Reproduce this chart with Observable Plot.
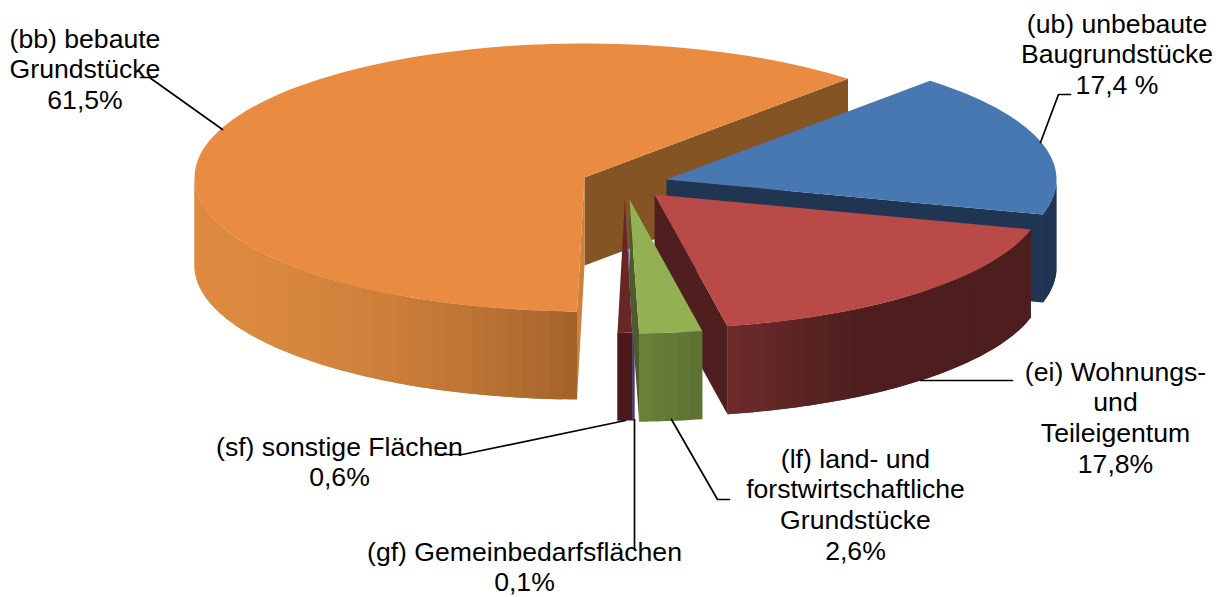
<!DOCTYPE html>
<html><head><meta charset="utf-8">
<style>html,body{margin:0;padding:0;background:#fff}</style>
<script src="https://cdn.jsdelivr.net/npm/d3@7"></script>
<script src="https://cdn.jsdelivr.net/npm/@observablehq/plot@0.6"></script>
</head><body><div id="chart"></div>
<script>
// Data, clockwise from the first slice
const keys = ["ub","ei","lf","gf","sf","bb"];
const shares = [17.4,17.8,2.6,0.1,0.6,61.5];
const labels = [
  "(ub) unbebaute\nBaugrundstücke\n17,4 %",
  "(ei) Wohnungs-\nund\nTeileigentum\n17,8%",
  "(lf) land- und\nforstwirtschaftliche\nGrundstücke\n2,6%",
  "(gf) Gemeinbedarfsflächen\n0,1%",
  "(sf) sonstige Flächen\n0,6%",
  "(bb) bebaute\nGrundstücke\n61,5%"
];
// Styles and pie layout (exploded centres, in page units)
const topColor = ["#4878b2","#b94a48","#93b053","#5e4b8c","#682626","#ea8b42"];
const cutColor = ["#1f3552","#4f1e1e","#4c5c2a",null,null,"#855425"];
const wallFrom = ["#1f3552","#6e2b2c","#6c8239","#4a3a70","#4c1a18","#dd8a40"];
const wallTo   = ["#1f3552","#4e1e1e","#5c7034","#4a3a70","#4c1a18","#a3622b"];
const centreX = [666,654,629,624.5,624.5,584];
const centreY = [179,194,199,198,198,177];
const labelX = [1116.5,1115,855,524,339,84.5];
const labelY = [10,358,445,538,433,25];
const leaders = [
  [[1040,142],[1058,94],[1070,94]],
  [[920,380],[1012,380]],
  [[671,419],[717,499],[729,499]],
  [[634,419],[634,547]],
  [[625,420],[462,454],[435,454]],
  [[140,77],[149,77],[222,129]]
];
const rx = 390, ry = 134, depth = 88, startAngle = 42.5;

const rad = (a) => a * Math.PI / 180;
const px = (i, a) => centreX[i] + rx * Math.sin(rad(a));
const py = (i, a) => centreY[i] - ry * Math.cos(rad(a));

const polys = [];
let order = 0;
function poly(pts, fill) {
  const id = order++;
  pts.forEach(([x, y]) => polys.push({id, x, y, fill}));
}
let a0 = startAngle;
const spans = shares.map((s) => { const a = a0; a0 += s * 3.6; return [a, a0]; });
const paint = [5,0,1,4,3,2];
for (const i of paint) {
  const [a, b] = spans[i];
  const cx = centreX[i], cy = centreY[i];
  // straight cut faces that look towards the viewer
  if (cutColor[i]) {
    poly([[cx,cy],[px(i,b),py(i,b)],[px(i,b),py(i,b)+depth],[cx,cy+depth]], cutColor[i]);
  }
  if (i === 5) {
    poly([[cx,cy],[px(i,a),py(i,a)],[px(i,a),py(i,a)+depth],[cx,cy+depth]], "#cf8039");
  }
  // curved outer wall, only where it faces the viewer
  const lo = Math.max(a, 90), hi = Math.min(b, 270);
  if (hi > lo) {
    const steps = Math.max(2, Math.ceil((hi - lo) / 2));
    const xs = d3.range(steps + 1).map((k) => lo + (hi - lo) * k / steps);
    const left = Math.min(px(i, lo), px(i, hi)), right = Math.max(px(i, lo), px(i, hi));
    const shade = i === 1
      ? (x) => d3.interpolateRgb(wallFrom[i], wallTo[i])(Math.min(1, (x - left) / 130))
      : i === 5
        ? (x) => d3.interpolateRgb(wallFrom[i], wallTo[i])(Math.pow((x - left) / (right - left), 1.8))
        : (x) => d3.interpolateRgb(wallFrom[i], wallTo[i])((x - left) / (right - left || 1));
    for (let k = 0; k < steps; k++) {
      const p = xs[k], q = xs[Math.min(k + 2, steps)], mid = xs[k + 1];
      const strip = d3.range(0, 5).map((j) => p + (q - p) * j / 4);
      poly([...strip.map((t) => [px(i,t),py(i,t)]), ...strip.reverse().map((t) => [px(i,t),py(i,t)+depth])],
           shade((px(i,p) + px(i,mid)) / 2));
    }
  }
  // top face
  const n = Math.ceil((b - a) / 2) + 1;
  const arc = d3.range(n + 1).map((k) => { const t = a + (b - a) * k / n; return [px(i,t), py(i,t)]; });
  poly([[cx,cy], ...arc], topColor[i]);
}
const leaderRows = leaders.flatMap((pts, i) => pts.map(([x, y]) => ({i, x, y})));
const labelRows = labels.map((t, i) => ({t, x: labelX[i], y: labelY[i]}));

const plot = Plot.plot({
  width: 1222, height: 597, margin: 0,
  x: {domain: [0, 1222], range: [0, 1222], axis: null},
  y: {domain: [0, 597], range: [0, 597], axis: null},
  color: {type: "identity"},
  style: {background: "#fff"},
  marks: [
    Plot.line(polys, {x: "x", y: "y", z: "id", fill: "fill", stroke: null, curve: "linear-closed"}),
    Plot.line(leaderRows, {x: "x", y: "y", z: "i", stroke: "#000", strokeWidth: 1.7, curve: "linear"}),
    Plot.text(labelRows, {x: "x", y: "y", text: "t", fill: "#000", fontSize: 26.6, lineHeight: 1.165, lineAnchor: "top",
      fontFamily: "'Liberation Sans', Arial, sans-serif", textAnchor: "middle"})
  ]
});
document.getElementById("chart").append(plot);
</script></body></html>
